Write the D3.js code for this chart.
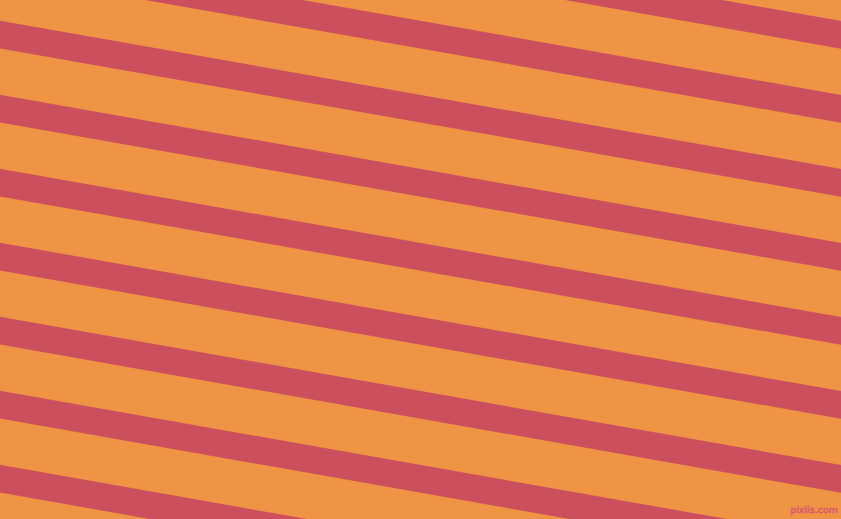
<!DOCTYPE html>
<html>
<head>
<meta charset="utf-8">
<script src="https://cdn.jsdelivr.net/npm/d3@7"></script>
<style>
  html, body { margin: 0; padding: 0; overflow: hidden; background: #ef9444; }
  svg { display: block; }
</style>
</head>
<body>
<div id="chart"></div>
<script>
// Stripe pattern data
const stripeIndex = [-3, -2, -1, 0, 1, 2, 3, 4, 5, 6, 7];
const stripeAngle = [10];          // degrees
const stripeOffsets = [20.4, 93.3]; // perpendicular offset of stripe 0 and stripe 1 (top edges)
const stripeThickness = [27.3];
const watermark = ["pixlis.com"];

const W = 841, H = 519;
const bg = "#ef9444", stripeColor = "#cc4f5e";

const svg = d3.select("#chart").append("svg")
  .attr("width", W).attr("height", H);

svg.append("rect").attr("width", W).attr("height", H).attr("fill", bg);

const y = d3.scaleLinear().domain([0, 1]).range(stripeOffsets);

const g = svg.append("g").attr("transform", `rotate(${stripeAngle[0]})`);

g.selectAll("rect.stripe").data(stripeIndex).join("rect")
  .attr("class", "stripe")
  .attr("x", -300)
  .attr("width", 1400)
  .attr("y", d => y(d))
  .attr("height", stripeThickness[0])
  .attr("fill", stripeColor);

svg.selectAll("text.wm").data(watermark).join("text")
  .attr("class", "wm")
  .attr("x", 838).attr("y", 513)
  .attr("text-anchor", "end")
  .attr("font-family", "DejaVu Sans, sans-serif")
  .attr("font-size", 9.5)
  .attr("fill", "#e8787a")
  .attr("stroke", "#d9566a")
  .attr("stroke-width", 0.6)
  .text(d => d);
</script>
</body>
</html>
